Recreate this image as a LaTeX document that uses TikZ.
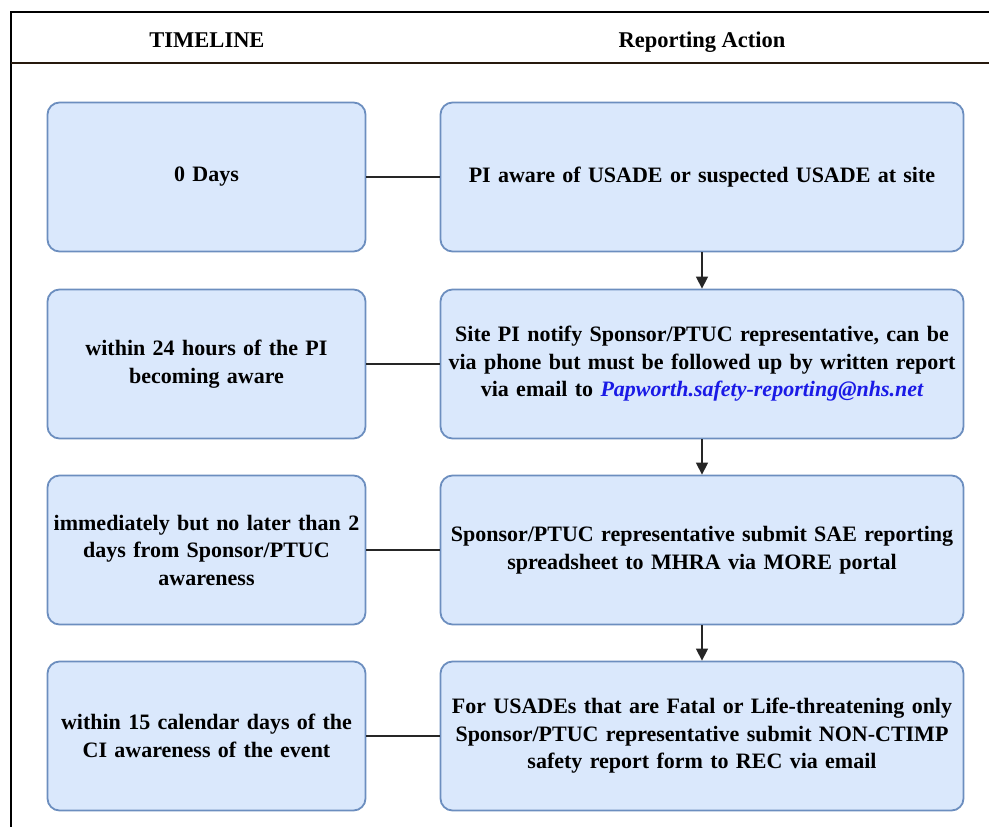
\documentclass[tikz,border=0pt]{standalone}
\usepackage{fontspec}
\setmainfont{Liberation Serif}
\usetikzlibrary{arrows.meta}
\definecolor{boxfill}{HTML}{DAE8FC}
\definecolor{boxdraw}{HTML}{6C8EBF}
\definecolor{linkblue}{HTML}{1A1AE6}
\tikzset{
  x=1pt,y=-1pt,
  stage/.style={draw=boxdraw,fill=boxfill,line width=1.8pt,rounded corners=12pt,
    minimum height=149pt,align=center,inner sep=4pt,
    font=\fontsize{22}{27.5}\selectfont\bfseries},
  lbox/.style={stage,minimum width=318pt,text width=310pt},
  rbox/.style={stage,minimum width=522pt,text width=515pt},
  link/.style={draw=black!85,line width=1.4pt},
  flow/.style={draw=black!85,line width=1.4pt,-{Triangle[length=12pt,width=12pt]}},
  frame/.style={draw=black,line width=2.2pt},
  head/.style={anchor=base,font=\fontsize{22.5}{26}\selectfont\bfseries}
}
\begin{document}
\begin{tikzpicture}
\useasboundingbox (0,0) rectangle (989,827);
\fill[white] (0,0) rectangle (989,827);
% frame
\draw[frame] (995,12) -- (11,12) -- (11,830);
\draw[frame,draw=black!80!brown] (11,63) -- (995,63);
\node[head] (h1) at (207,47.5) {TIMELINE};
\node[head] (h2) at (702,47.5) {Reporting Action};
% left boxes
\node[lbox] (l1) at (206.5,177) {0 Days};
\node[lbox] (l2) at (206.5,364) {within 24 hours of the PI\\becoming aware};
\node[lbox] (l3) at (206.5,550) {immediately but no later than 2\\days from Sponsor/PTUC\\awareness};
\node[lbox] (l4) at (206.5,736) {within 15 calendar days of the\\CI awareness of the event};
% right boxes
\node[rbox] (r1) at (702,177) {PI aware of USADE or suspected USADE at site};
\node[rbox] (r2) at (702,364) {Site PI notify Sponsor/PTUC representative, can be\\via phone but must be followed up by written report\\via email to {\color{linkblue}\itshape Papworth.safety-reporting@nhs.net}};
\node[rbox] (r3) at (702,550) {Sponsor/PTUC representative submit SAE reporting\\spreadsheet to MHRA via MORE portal};
\node[rbox] (r4) at (702,736) {For USADEs that are Fatal or Life-threatening only\\Sponsor/PTUC representative submit NON-CTIMP\\safety report form to REC via email};
% connectors
\foreach \i in {1,2,3,4} \draw[link] (l\i.east) -- (r\i.west);
\draw[flow] (r1.south) -- (r2.north);
\draw[flow] (r2.south) -- (r3.north);
\draw[flow] (r3.south) -- (r4.north);
\end{tikzpicture}
\end{document}
